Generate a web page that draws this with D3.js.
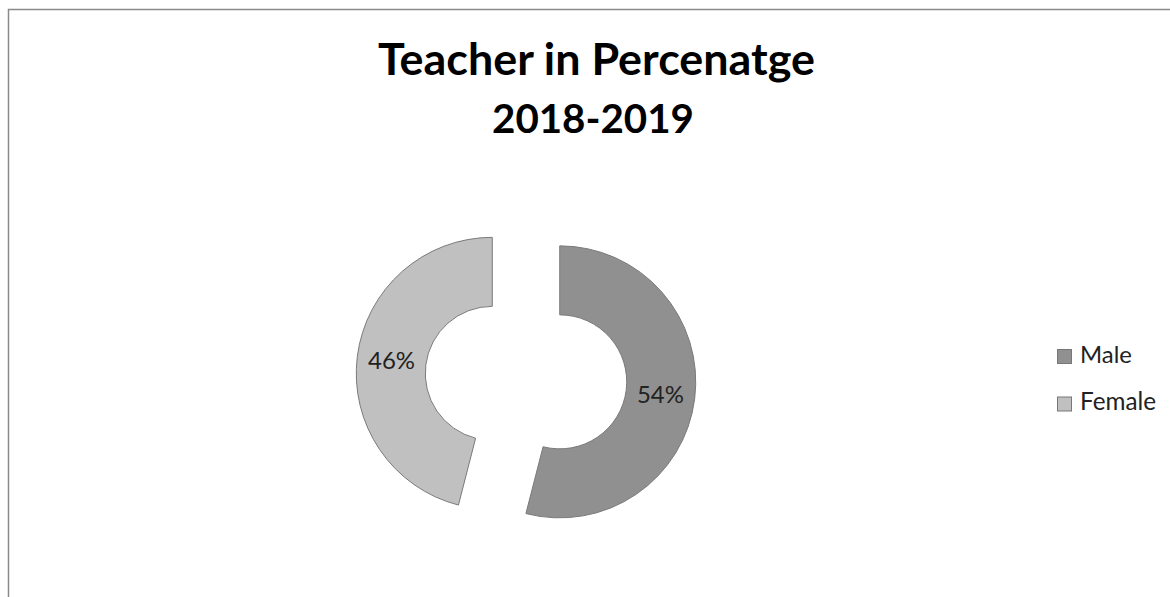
<!DOCTYPE html>
<html>
<head>
<meta charset="utf-8">
<script src="https://cdn.jsdelivr.net/npm/d3@7"></script>
<style>
  html, body { margin: 0; padding: 0; background: #fff; }
  svg { display: block; }
</style>
</head>
<body>
<svg id="chart" width="1170" height="597"></svg>
<script>
// ---- data ----
const categories = ["Male", "Female"];
const values = [54, 46];
const labels = ["54%", "46%"];
const titleLines = ["Teacher in Percenatge", "2018-2019"];

// ---- styles ----
const fills = ["#909090", "#c0c0c0"];
const FONT = "Lato, 'Open Sans', 'Liberation Sans', sans-serif";

const svg = d3.select("#chart");

// outer frame
svg.append("rect")
  .attr("x", 8.5).attr("y", 9.5)
  .attr("width", 1200).attr("height", 700)
  .attr("fill", "none").attr("stroke", "#8a8a8a").attr("stroke-width", 1.5);

function fitText(sel, targetWidth, startSize) {
  sel.attr("font-size", startSize);
  const w = sel.node().getComputedTextLength();
  sel.attr("font-size", startSize * targetWidth / w);
}

// title
const t1 = svg.append("text").text(titleLines[0])
  .attr("x", 596.5).attr("y", 74.5).attr("text-anchor", "middle")
  .attr("font-family", FONT).attr("font-weight", "bold").attr("fill", "#000");
fitText(t1, 437, 46);
const t2 = svg.append("text").text(titleLines[1])
  .attr("x", 593).attr("y", 133).attr("text-anchor", "middle")
  .attr("font-family", FONT).attr("font-weight", "bold").attr("fill", "#000");
fitText(t2, 202, 46);

// donut
const cx = 526, cy = 377.6, R = 136, r = 67, explode = 34;
const pie = d3.pie().sort(null).value(d => d)(values);
const arc = d3.arc().innerRadius(r).outerRadius(R);
const color = d3.scaleOrdinal().domain(categories).range(fills);

const g = svg.append("g").attr("transform", `translate(${cx},${cy})`);
const slices = g.selectAll("g.slice").data(pie).join("g")
  .attr("class", "slice")
  .attr("transform", d => {
    const a = (d.startAngle + d.endAngle) / 2;
    return `translate(${explode * Math.sin(a)},${-explode * Math.cos(a)})`;
  });
slices.append("path")
  .attr("d", arc)
  .attr("fill", (d, i) => color(categories[i]))
  .attr("stroke", "#7a7a7a").attr("stroke-width", 1);
slices.append("text")
  .attr("transform", d => {
    const c = d3.arc().innerRadius(r).outerRadius(R).centroid(d);
    return `translate(${c[0]},${c[1]})`;
  })
  .attr("text-anchor", "middle").attr("dy", "0.36em")
  .attr("font-family", FONT).attr("fill", "#222")
  .text((d, i) => labels[i])
  .each(function() { fitText(d3.select(this), 47, 22); });

// legend
const legend = svg.append("g");
const li = legend.selectAll("g").data(categories).join("g")
  .attr("transform", (d, i) => `translate(1057,${349 + i * 47.5})`);
li.append("rect").attr("x", 0.5).attr("y", 0.5).attr("width", 14).attr("height", 14)
  .attr("fill", d => color(d)).attr("stroke", "#777").attr("stroke-width", 1);
li.append("text").attr("x", 23).attr("y", 13.5)
  .attr("font-family", FONT).attr("fill", "#222")
  .text(d => d)
  .each(function(d) { fitText(d3.select(this), d === "Male" ? 52 : 76, 20); });
</script>
</body>
</html>
